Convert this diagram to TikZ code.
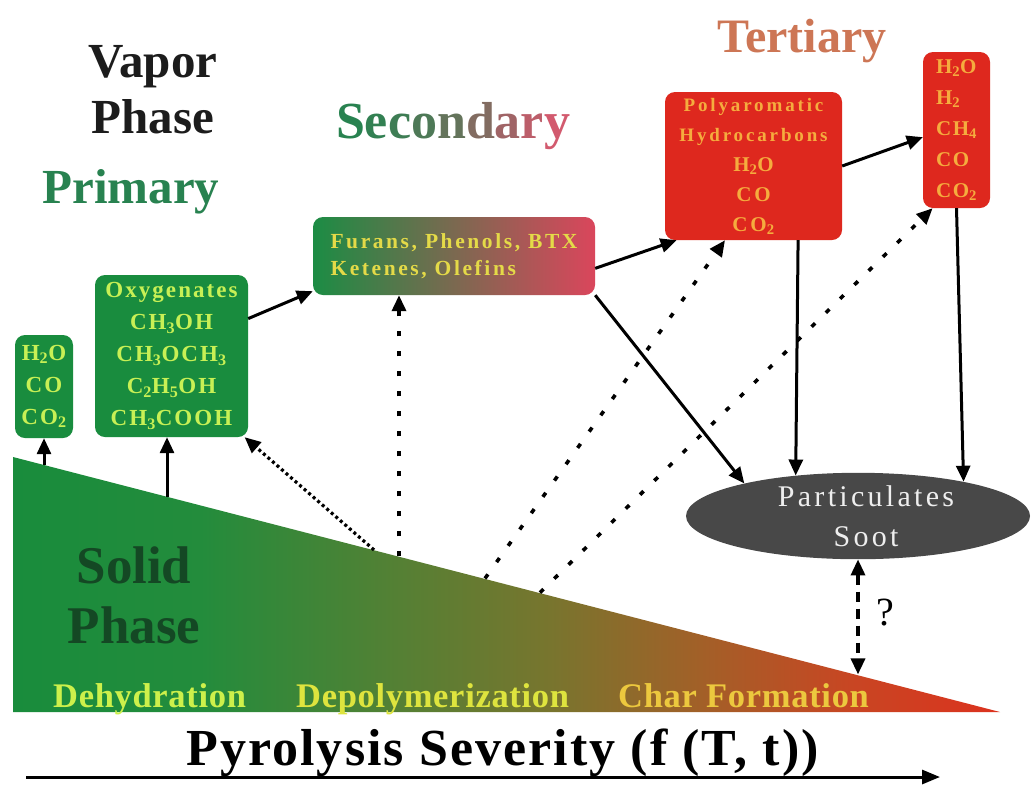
\documentclass[tikz,border=0pt]{standalone}
\usepackage{fontspec}
\setmainfont{Liberation Serif}
\usetikzlibrary{arrows.meta,shapes.geometric}
\definecolor{boxgreen}{RGB}{25,140,62}
\definecolor{boxred}{RGB}{222,40,30}
\definecolor{gtext}{RGB}{200,240,85}
\definecolor{otext}{RGB}{245,172,62}
\definecolor{ytext}{RGB}{228,218,72}
\definecolor{ellgray}{RGB}{72,72,72}
\definecolor{elltext}{RGB}{238,238,238}
\definecolor{soliddark}{RGB}{20,72,36}
\definecolor{primgreen}{RGB}{40,130,80}
\definecolor{vapordark}{RGB}{28,28,28}
\definecolor{tertcol}{RGB}{205,118,85}
\definecolor{furleft}{RGB}{28,140,68}
\definecolor{furmid}{RGB}{125,110,80}
\definecolor{furright}{RGB}{218,70,92}
\definecolor{dehcol}{RGB}{205,240,75}
\definecolor{depcol}{RGB}{222,228,62}
\definecolor{charcol}{RGB}{236,200,62}
\definecolor{sc1}{RGB}{40,130,80}
\definecolor{sc2}{RGB}{50,128,82}
\definecolor{sc3}{RGB}{62,125,84}
\definecolor{sc4}{RGB}{78,121,87}
\definecolor{sc5}{RGB}{100,116,91}
\definecolor{sc6}{RGB}{130,108,97}
\definecolor{sc7}{RGB}{160,100,102}
\definecolor{sc8}{RGB}{188,94,106}
\definecolor{sc9}{RGB}{210,90,110}
\definecolor{sh0}{RGB}{25,140,60}
\definecolor{sh1}{RGB}{35,140,60}
\definecolor{sh2}{RGB}{85,128,52}
\definecolor{sh3}{RGB}{120,117,46}
\definecolor{sh4}{RGB}{162,96,40}
\definecolor{sh5}{RGB}{200,70,35}
\definecolor{sh6}{RGB}{220,50,30}
\pgfdeclarehorizontalshading{solidshade}{100bp}{color(0bp)=(sh0); color(25bp)=(sh0); color(34.5bp)=(sh1); color(44.6bp)=(sh2); color(52.2bp)=(sh3); color(59.8bp)=(sh4); color(67.4bp)=(sh5); color(75bp)=(sh6); color(100bp)=(sh6)}
\newcommand\fontGbox{\bfseries\fontsize{23}{32}\selectfont\addfontfeatures{LetterSpace=9}}
\newcommand\fontFur{\bfseries\fontsize{21.5}{27}\selectfont\addfontfeatures{LetterSpace=12}}
\newcommand\fontPoly{\bfseries\fontsize{21}{30}\selectfont\addfontfeatures{LetterSpace=14}}
\newcommand\fontPolySmall{\bfseries\fontsize{19}{28}\selectfont\addfontfeatures{LetterSpace=15}}
\newcommand\fontRbox{\bfseries\fontsize{21}{31}\selectfont\addfontfeatures{LetterSpace=8}}
\newcommand\fontEll{\fontsize{30}{40}\selectfont\addfontfeatures{LetterSpace=11}}
\newcommand\fontBig{\bfseries\fontsize{49}{49}\selectfont}
\newcommand\fontSolid{\bfseries\fontsize{53}{53}\selectfont}
\newcommand\fontStage{\bfseries\fontsize{34.5}{34.5}\selectfont\addfontfeatures{LetterSpace=2}}
\newcommand\fontAxis{\bfseries\fontsize{52}{52}\selectfont\addfontfeatures{LetterSpace=4}}
\begin{document}
\begin{tikzpicture}[x=1pt,y=-1pt,
  tip/.style={},
  arr/.style={line width=3pt,-{Triangle[length=16pt,width=14pt]}},
  dotarr/.style={line width=3.6pt,-{Triangle[length=16pt,width=14pt]},dash pattern=on 5pt off 15pt},
  densearr/.style={line width=3.2pt,-{Triangle[length=16pt,width=14pt]},dash pattern=on 3pt off 3pt},
  dasharr/.style={line width=3.4pt,{Triangle[length=16pt,width=14pt]}-{Triangle[length=16pt,width=14pt]},dash pattern=on 10pt off 7pt},
  gbox/.style={fill=boxgreen,rounded corners=10pt,inner sep=0pt,text=gtext,align=center},
  rbox/.style={fill=boxred,rounded corners=10pt,inner sep=0pt,text=otext,align=center},
  lbl/.style={inner sep=0pt,anchor=base}]
\useasboundingbox (0,0) rectangle (1032,785);
\fill[white] (0,0) rectangle (1032,785);
% solid phase triangle
\shade[shading=solidshade] (13,457) -- (13,712) -- (1000,712) -- cycle;
\coordinate (t1) at (44,465.0);
\coordinate (t2) at (167,496.6);
\coordinate (t3) at (374,549.9);
\coordinate (t4) at (399,556.3);
\coordinate (t5) at (485,578.4);
\coordinate (t6) at (540,592.6);
\coordinate (t7) at (858,674.4);
% headings
\node[lbl,font=\fontBig,text=vapordark] (vapor) at (153,77) {Vapor};
\node[lbl,font=\fontBig,text=vapordark] (vphase) at (153,133) {Phase};
\node[lbl,font=\fontBig,text=primgreen] (primary) at (131,203) {Primary};
\node[lbl,font=\fontBig\fontsize{52}{52}\selectfont] (secondary) at (453,138) {\textcolor{sc1}{S}\textcolor{sc2}{e}\textcolor{sc3}{c}\textcolor{sc4}{o}\textcolor{sc5}{n}\textcolor{sc6}{d}\textcolor{sc7}{a}\textcolor{sc8}{r}\textcolor{sc9}{y}};
\node[lbl,font=\fontBig\fontsize{48}{48}\selectfont,text=tertcol] (tertiary) at (802,52) {Tertiary};
\node[lbl,font=\fontSolid,text=soliddark] (solid) at (134,583) {Solid};
\node[lbl,font=\fontSolid,text=soliddark] (sphase) at (134,643) {Phase};
\node[lbl,anchor=base west,font=\fontStage,text=dehcol] (deh) at (53,707) {Dehydration};
\node[lbl,anchor=base west,font=\fontStage,text=depcol] (dep) at (296,707) {Depolymerization};
\node[lbl,anchor=base west,font=\fontStage,text=charcol] (char) at (618,707) {Char Formation};
\node[lbl,anchor=base west,font=\fontAxis] (axis) at (186,765) {Pyrolysis Severity (f (T, t))};
\coordinate (ax1) at (26,777);
\coordinate (ax2) at (940,777);
\draw[line width=3pt,-{Triangle[length=18pt,width=14pt]}] (ax1) -- (ax2);
% boxes
\node[gbox,minimum width=58pt,minimum height=103pt,font=\fontGbox] (b1) at (44,386.5) {H\textsubscript{2}O\\CO\\CO\textsubscript{2}};
\node[gbox,minimum width=153pt,minimum height=162pt,font=\fontGbox] (b2) at (171.5,356) {Oxygenates\\CH\textsubscript{3}OH\\CH\textsubscript{3}OCH\textsubscript{3}\\C\textsubscript{2}H\textsubscript{5}OH\\CH\textsubscript{3}COOH};
\node[rounded corners=10pt,inner sep=0pt,left color=furleft,middle color=furmid,right color=furright,text=ytext,align=left,minimum width=282pt,minimum height=78pt,font=\fontFur] (fur) at (454,256) {Furans, Phenols, BTX\\Ketenes, Olefins};
\node[rbox,minimum width=177pt,minimum height=148pt,font=\fontPoly] (poly) at (753.5,166) {{\fontPolySmall Polyaromatic}\\{\fontPolySmall Hydrocarbons}\\H\textsubscript{2}O\\CO\\CO\textsubscript{2}};
\node[rbox,align=left,minimum width=67pt,minimum height=156pt,font=\fontRbox] (rb) at (956.5,130) {H\textsubscript{2}O\\H\textsubscript{2}\\CH\textsubscript{4}\\CO\\CO\textsubscript{2}};
\node[ellipse,fill=ellgray,inner sep=0pt,minimum width=344pt,minimum height=82pt,text=elltext,align=center,font=\fontEll] (ell) at (858,516) {\hspace*{16pt}Particulates\\\hspace*{16pt}Soot};
\node[font=\fontsize{40}{40}\selectfont,inner sep=0pt] (q) at (885,613) {?};
% solid arrows
\draw[arr] (t1) -- (b1.south);
\draw[arr] (t2) -- (t2 |- b2.south);
\draw[arr] (b2.26) -- (fur.194);
\draw[arr] (fur.-5) -- (poly.224);
\draw[arr] (poly.east) -- (rb.192);
\draw[arr] (fur.south east) -- (ell.164);
\draw[arr] (poly.-59) -- (ell.147.4);
\draw[arr] (rb.south) -- (ell.18.8);
% dotted arrows
\draw[densearr] (t3) -- (b2.-48.6);
\draw[dotarr] (t4) -- (t4 |- fur.south);
\draw[dotarr] (t5) -- (poly.249);
\draw[dotarr] (t6) -- (rb.253);
\draw[dasharr] (ell.south) -- (t7);
\end{tikzpicture}
\end{document}
